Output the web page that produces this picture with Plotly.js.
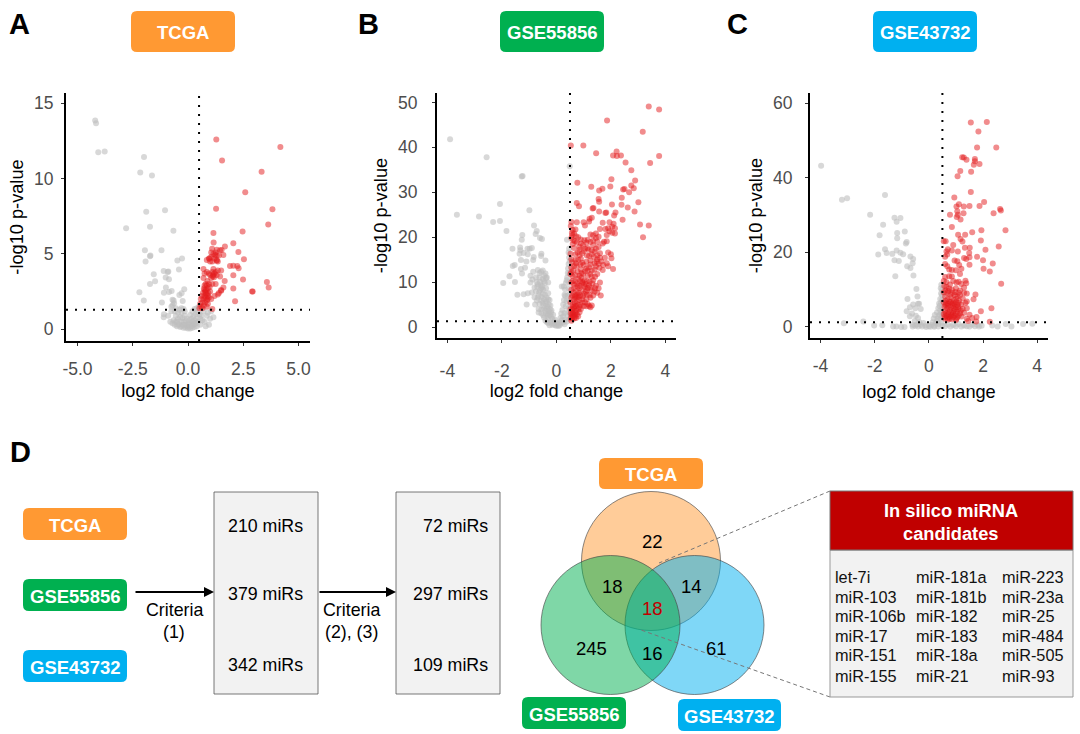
<!DOCTYPE html>
<html><head><meta charset="utf-8">
<script src="https://cdn.plot.ly/plotly-3.0.1.min.js"></script>
<style>html,body{margin:0;padding:0;background:#fff}#c{width:1080px;height:734px}</style></head>
<body><div id="c"></div>
<script>
const aGrey=[[-4.2,13.85],[-4.16,13.67],[-4.06,11.75],[-3.77,11.8],[-1.99,11.44],[-2.16,10.4],[-1.63,10.2],[-1.89,7.8],[-1.04,7.9],[-2.8,6.7],[-1.72,6.8],[-.66,6.53],[-1.95,5.24],[-1.2,5.24],[-1.7,4.89],[-1.72,4.85],[-1.92,4.49],[-.27,4.69],[-.48,4.56],[-.41,3.96],[-1.1,3.87],[-.89,3.83],[-.92,3.8],[-1.55,3.65],[-1.01,3.43],[-.86,3.32],[-1.49,3.19],[-1.72,3.01],[-1,2.77],[-.17,2.65],[-.74,2.54],[-.86,2.48],[-2.2,2.46],[-1.09,2.43],[-.29,2.39],[-.39,2.28],[-2,1.9],[-1.18,1.77],[-.7,1.95],[-.63,1.73],[-.24,1.88],[-.75,1.5],[-1.09,1],[-1.1,.8],[-.7,.4],[-.65,.6],[-.6,.3],[-.55,.9],[-.5,.5],[-.5,.2],[-.45,1.1],[-.45,.7],[-.4,.35],[-.4,1.3],[-.35,.8],[-.35,.15],[-.3,.5],[-.3,1.1],[-.25,.3],[-.25,.75],[-.2,.1],[-.2,.5],[-.2,1.35],[-.15,.3],[-.15,.9],[-.1,.1],[-.1,.55],[-.05,.2],[-.05,.7],[0,.05],[0,.35],[.05,.15],[.05,.6],[.1,.05],[.1,.4],[.1,.95],[.15,.2],[.15,.7],[.2,.1],[.2,.5],[.2,1.2],[.25,.3],[.25,.85],[.3,.15],[.3,.6],[.3,1.35],[.35,.4],[.35,1],[.4,.2],[.4,.7],[.4,1.4],[.45,.5],[.45,1.1],[-.75,1.2],[-.7,1.6],[-.65,1.9],[-.8,.5],[-.9,.9],[-.55,.5],[-.45,.3],[-.3,.2],[-.1,.3],[.05,.3],[.2,.3],[.3,.4],[-.6,1.2],[-.55,1.4],[-.3,1.4],[-.15,1.2],[.55,.3],[.6,.9],[.65,.6],[.7,1.2],[.75,.5],[.8,.2],[.85,.9],[.9,1.1],[1,.7],[.95,.3],[1.05,1.2],[1.15,.8],[.5,1.5],[.52,1],[.55,.7]];
const aRed=[[1.28,12.59],[4.18,12.1],[1.54,11.2],[3.33,10.46],[2.59,9.09],[1.27,8],[3.82,7.96],[3.63,6.95],[1.15,6.39],[2.47,6.48],[1.16,5.75],[2.05,5.7],[1.67,5.49],[1.45,5.24],[1.52,5.26],[2.28,5.13],[1.09,5.35],[1.3,5.27],[1.6,4.93],[1.23,4.93],[.97,4.7],[2.53,4.65],[.85,4.6],[1.3,4.55],[1.9,4.2],[2.05,4.22],[2.23,4.2],[2.29,4.05],[2.05,3.58],[2.49,3.3],[1.66,3.21],[3.57,3.14],[3.65,2.77],[2.9,2.5],[2.93,2.5],[2.05,2.7],[1.6,2.77],[2.13,1.86],[1.5,2.55],[1.4,2.4],[.52,1.4],[.55,1.7],[.58,2],[.6,1.5],[.62,2.2],[.65,1.8],[.65,1.4],[.68,2.4],[.7,2],[.72,2.7],[.72,1.6],[.75,2.9],[.75,2.2],[.78,1.8],[.78,2.5],[.8,3],[.8,2.1],[.82,2.6],[.85,2.9],[.85,1.5],[.85,2.3],[.88,3.2],[.88,2],[.9,2.7],[.9,1.7],[.92,2.4],[.95,3],[.95,2.1],[.98,2.8],[1,3.6],[1,2.5],[1.05,3.4],[1.05,2],[1.1,1.35],[1.1,3.8],[1.1,3],[1.15,3.6],[1.15,4],[1.2,3.7],[1.25,3.8],[.7,3.4],[.75,3.7],[.85,3.8],[.7,4],[1.2,2.2],[1.25,3],[1.35,2.3],[1.5,2.6],[.95,4.7],[1,4.5],[1.05,4.8],[1.1,4.5],[1.2,4.7],[1.3,4.6],[1.35,4.5],[1.15,5],[1.25,5.1],[1.3,4.9],[1.05,5.1],[1.4,4.9],[1.5,3.9],[1.45,3.5],[1.35,3.9],[.95,3.7],[1.12,3.5],[1.18,3.45],[1.3,3.6],[.85,1.9],[.9,2.2],[.8,2.4],[.75,2.6]];
const bGrey=[[-3.9,41.8],[-2.56,37.8],[-1.27,33.5],[-1.24,33.6],[-2.07,27.4],[-.99,26],[-3.65,25],[-2.84,24.6],[-2.07,23.6],[-2.32,23.4],[-.82,22.6],[-1.83,21.4],[-.72,21.4],[-1.25,20.5],[-.76,20.7],[-1.27,19.4],[-.6,19.8],[-.53,19.6],[.49,35.8],[.39,19.4],[-1.61,17.4],[-1.33,17.7],[-1.32,17.1],[-1.06,17.4],[-.9,17.6],[-.98,17.4],[-1.2,16.5],[-1.35,16.3],[-1.05,16.2],[-.83,15.6],[-.85,14.9],[-.55,16.3],[-.56,15.8],[-.4,14.8],[-1.3,14.9],[-1.1,14.6],[-1.6,13.6],[-1.53,13.8],[-1.3,12.9],[-1.15,13.2],[-1.72,11.3],[-1.95,9.8],[-1.52,10],[-1.26,11.9],[-.95,11.4],[-.85,12.3],[-.68,12.7],[-.56,12.3],[-.4,11.9],[-.88,10.6],[-.95,9.9],[-.72,10],[-.62,11],[-.5,10.7],[-.35,11],[-.8,8.8],[-.7,9],[-.58,9.3],[-.42,9.8],[-.3,9.9],[-.9,7.7],[-.75,7.9],[-.63,7.8],[-.48,8.3],[-.38,8.6],[-1.43,7.2],[-1.2,7.3],[-1.05,7.5],[-.8,6.6],[-.68,6.5],[-.55,6.7],[-.42,7.2],[-.3,7.5],[-1.09,5],[-.78,5],[-.62,5.2],[-.5,5.4],[-.37,5.7],[-.25,6],[-.65,4],[-.55,3.9],[-.45,4.2],[-.33,4.5],[-.22,4.8],[-.48,2.6],[-.38,3],[-.28,3.5],[-.18,3.7],[-.4,1.4],[-.3,1.9],[-.2,2.4],[-.12,2.7],[-.05,1.6],[-.3,.9],[-.2,1],[-.1,.8],[0,.3],[.05,.5],[.1,1],[.02,.9],[-.05,.4],[.15,2],[.18,3],[.22,3.8],[.25,5],[.28,6],[.3,7.2],[.32,8.4],[.27,9],[.35,9.8],[.4,11],[.43,13],[.45,14],[.47,15.5],[.42,12],[.38,10.4],[.33,6.9],[.2,1.5],[.25,2.4],[.3,3.1],[.35,4.6],[.38,5.8],[.42,7],[.45,8.6],[.47,10],[.48,12],[.49,14.7],[.15,.8],[.25,1],[.33,1.8],[.4,3],[.44,4.2],[.47,5.8],[.49,7.4],[.49,3],[.45,1.8],[.38,1.2],[.3,.6],[.45,16.6],[.47,17.5],[.2,9],[-.6,10],[-.55,8.6],[-.5,7.4],[-.45,6.2],[-.4,5.2],[-.35,4],[-.3,3],[-.25,2.6],[-.2,3.2],[-.15,1.8],[-.1,1.3],[-.05,.9],[0,.7],[.08,.2],[.12,.4],[-.15,.5],[-.25,.4],[-.35,1.1],[-.45,2.1],[-.55,3],[-.65,3.2],[-.72,5.9],[-.65,7],[-.6,8.2],[-.52,9],[-.46,10.2],[-.38,10.9],[-.68,9.5],[-.75,11],[-.62,12],[-.5,12.6],[-.44,11.4],[-.55,5.9],[-.48,4.8],[-.4,3.6],[-.32,2.5],[-.36,6.5],[-.28,5],[-.24,4],[-.3,6.2]];
const bRed=[[3.39,49.1],[3.77,48.4],[1.86,46],[3.17,43.5],[.53,40.4],[.99,40.4],[1.46,38.7],[2.21,39.1],[2.08,38.2],[2.22,38.1],[2.37,38.2],[3.44,36.5],[3.77,38.1],[2.54,36.6],[2.75,34.9],[2.02,32.9],[2.89,32.6],[.77,32.1],[2.75,31.5],[2.84,30.9],[1.28,31.2],[1.98,31.3],[1.69,30.8],[1.57,30.4],[2.45,30.6],[2.5,30.7],[2.67,30],[2.4,28.8],[1.55,28.5],[1.57,27.9],[3.01,27.8],[.75,27.6],[.83,26.9],[2.04,27.3],[2.39,27.2],[2.62,26.6],[2.87,25.7],[1.36,26.5],[1.33,26.4],[1.57,25.7],[1.8,25.4],[1.83,25.5],[2.17,25.5],[2.12,24.8],[2.43,23.9],[1.22,24.1],[1.3,24.3],[3.07,22.8],[3.39,22.6],[3.18,20],[2.08,12.9],[.55,23.4],[.75,23.3],[.53,22.5],[1,23.3],[1.2,23.5],[1.7,23.2],[1.95,23.3],[2.1,23],[2.05,22.3],[2.15,22],[1.9,22],[1.8,21.8],[2.05,21],[2.15,20.8],[1.05,22.6],[.7,21.7],[.6,21.6],[.65,20.8],[.72,20.2],[.55,19.8],[.9,19.5],[1.25,20.6],[1.45,20.8],[1.55,20.1],[1.45,19.8],[1.75,19],[1.85,19.1],[.6,18.5],[.75,18.8],[.9,18.6],[1.03,19.3],[1.25,18.9],[1.35,18.2],[1.55,17.8],[.65,17.6],[1.05,17.5],[1.3,17.1],[1.4,16.8],[1.45,17.4],[1.6,16.4],[.52,16.3],[.7,16.2],[.85,16],[.95,16.4],[1.12,15.9],[1.2,15.8],[2,16.2],[2.02,15.3],[1.5,15.1],[1.6,15.4],[1.65,14.6],[1.55,14.1],[1.85,14.2],[1.9,13.5],[.55,15.1],[.7,14.9],[.8,15],[.95,14.3],[1.1,14.5],[1.2,13.3],[1.3,12.5],[1.45,13.5],[1.7,12.7],[.55,13.2],[.65,13.6],[.78,12.3],[.9,12.8],[1.05,12.4],[1.5,11.8],[1.15,11.4],[1.25,11.8],[1.35,10.4],[.52,11.8],[.6,11.3],[.7,11.5],[.8,10.8],[.92,11],[1.02,10.4],[1.12,10.2],[1.22,10.1],[1.32,9.7],[1.45,9.2],[1.55,8.6],[.55,9.9],[.65,9.4],[.75,9.7],[.85,9.2],[.95,9.8],[1.05,8.9],[1.15,8.7],[1.25,8.8],[1.4,7.9],[1.5,7.6],[1.63,7],[.55,8.3],[.62,7.7],[.72,8],[.82,7.6],[.92,8.1],[1.02,7.4],[1.12,7.2],[1.22,7.1],[1.35,7],[.55,6.5],[.65,6.2],[.75,6.6],[.85,6],[.95,6.2],[1.05,5.5],[.52,5.4],[.6,5],[.68,5.4],[.78,5],[.88,4.9],[1,4.7],[1.1,4.6],[1.2,4.7],[1.25,4.4],[.52,4],[.58,3.9],[.65,4.1],[.72,3.6],[.8,3.9],[.9,4],[.53,3],[.6,3.1],[.67,2.7],[.75,2.8],[.8,2.4],[.53,2],[.58,1.9],[.65,1.9],[.72,2],[.55,1.4],[.55,12.2],[.6,10.3],[.65,8.7],[.7,7],[.75,5.8],[.85,8.7],[.95,10],[1.08,9.6],[1.2,9.3],[.62,3],[.68,4.6],[.82,6.8],[1,13.8],[1.25,14.8],[1.4,14.2],[1.5,16],[1.7,18.6],[1.35,20.4],[1.6,21.8],[1.85,20.5],[1.95,21.3],[.85,17.8],[.9,15.2],[1.15,17.6],[.75,13.6],[.85,11.4],[1.25,6.5],[1.1,6.2],[.57,21],[.58,20.4],[.62,19.3],[.68,19.1],[.8,20],[.98,18.2],[1.1,18.8],[1.18,17.2],[1.3,16.2],[1.38,15.6],[1.48,14.6],[1.58,13.2],[1.4,12.8],[1.3,11.2],[1.1,13],[.98,11.8],[.88,13.9],[.72,14.2],[.58,14.4],[.62,12.6],[.7,10.2],[.78,9],[.88,10.2],[1.02,9.2],[1.12,8.2],[1.3,8.2],[1.42,8.6],[.58,7],[.68,6.7],[.78,7.2],[.88,7],[.98,6.9],[1.08,7.9],[.62,4.4],[.72,4.7],[.84,4.4],[.95,5.4],[1.15,5.1],[1.3,4.8],[.57,2.7],[.7,3.2],[.85,3.3],[.6,2.3],[.68,2.3],[.92,12],[1.15,12.6],[1.25,13.9],[1.42,11.2],[1.6,9.9],[1.72,13.8],[1.78,15.4],[1.9,16.6],[1.35,19.2],[1.15,19.4],[1.5,19],[.85,17.2],[1,16.9],[.78,16.6]];
const cGrey=[[-3.98,43.2],[-3.21,34.1],[-3.02,34.5],[-1.62,35.4],[-2.17,30.1],[-1.27,29.3],[-1.05,29.2],[-1.19,28.2],[-1.69,27.4],[-.89,25.6],[-1.17,25.2],[-1.82,24.6],[-1.17,23.8],[-.82,22.8],[-.85,22.4],[-1.62,20.8],[-1.87,19.4],[-1.56,19.8],[-1.19,20.5],[-1.35,19.6],[-1.05,19.9],[-.95,19.5],[-.68,18.9],[-.58,18.2],[-1.27,17.9],[-1.11,17.7],[-.6,17.1],[-.8,16.3],[-.68,15.8],[-.57,13.8],[-1.24,13.6],[-.46,10.2],[-.42,8.2],[-.79,7.5],[-.4,6.2],[-.58,6],[-.36,6.2],[-.7,5.3],[-.5,5],[-.82,4.2],[-.3,4.8],[-.62,3.6],[-.7,2.9],[-.48,3],[-.4,2.4],[-.52,1.6],[-.35,1.3],[-.3,.5],[-.45,.7],[-.2,1.1],[-.12,.4],[0,.2],[.1,.6],[.14,1.3],[.18,2.3],[.22,3.2],[.26,1],[.3,3.9],[.32,2.2],[.35,5],[.38,6.3],[.4,3.3],[.42,7.5],[.45,9],[.44,10.4],[.46,11.3],[.48,5.2],[.49,2.8],[.49,7.2],[.49,8.5],[.47,1.2],[.35,.8],[.2,.3],[-3.14,1],[-2.42,1.5],[-2.02,.4],[-1.72,.45],[-1.32,.1],[-1.2,.1],[-1.02,0],[-.9,0],[-.6,.1],[-.6,.6],[-.5,.3],[-.4,.1],[-.25,.1],[-.1,0],[.05,.05],[.2,.05],[.35,.1],[.5,.4],[.6,.2],[.7,.7],[.8,.1],[.9,.5],[1,.2],[1.1,.8],[1.2,.1],[1.3,.4],[1.4,.2],[1.5,.1],[1.6,.6],[1.7,.2],[1.8,.5],[1.85,.1],[1.95,.3],[2.34,.4],[2.54,.1],[2.84,.8],[3.05,.1],[3.48,.8],[3.82,.9],[.3,1.6],[.36,3],[.42,4.4],[.45,6.4],[.4,5.6],[.44,2.2],[.47,3.8],[.49,10]];
const cRed=[[1.55,54.8],[2.14,54.9],[1.83,52.4],[1.78,48.1],[2.49,48.1],[1.23,45.5],[1.29,45.4],[1.39,44.8],[1.7,45],[1.66,43.5],[1.87,43.7],[1.7,44.4],[1.16,41.8],[1.56,41.6],[1.06,40.4],[1.55,36.2],[.94,34.7],[2.04,33.5],[1.11,32.9],[1.02,32.3],[1.29,32.3],[1.5,32.4],[1.87,32.4],[2.63,31.6],[2.66,31.2],[2.39,30.5],[1.28,30.5],[.78,30.1],[1.05,31],[1.07,30.1],[1.03,29.5],[1.17,28.8],[.85,26.8],[1.94,25.9],[2.83,25.9],[1.6,25.4],[1.08,24.7],[1.34,24.7],[1.17,23.6],[1.24,22.9],[1.92,23.2],[.9,22],[2.58,21.6],[1.33,21.2],[1.51,21.2],[2.09,20.7],[1.49,19.8],[1.78,18.8],[2,17.9],[2.36,17],[1.5,16.7],[2.02,15.6],[2.25,14.9],[2.67,11.6],[1.72,8.7],[2.31,5],[1.92,4.2],[2.25,1.4],[1.76,2.7],[.62,23],[.55,23],[.7,20.8],[.65,20.2],[.68,19.4],[.6,18.8],[.85,20.5],[1.07,20.2],[1.3,18.5],[1.38,18.2],[1.5,18.7],[.6,16.9],[.68,16.3],[.75,15.4],[.95,17.8],[1.05,17.6],[1.12,16.6],[1.2,15.6],[1,15.2],[.85,15.3],[1.15,14.2],[.6,13.4],[.75,13.6],[.85,13.5],[.55,12.3],[.65,12],[.78,11.4],[.9,12.3],[1.02,11.9],[1.1,12.1],[1.2,11.5],[1.35,12.4],[1.38,11.7],[1.3,10.6],[.57,11],[.65,10.7],[.75,10.3],[.85,10],[1,10.4],[1.15,9.8],[1.3,9.2],[1.4,9],[.55,9.3],[.68,9.1],[.8,8.7],[.95,8.6],[1.05,8.2],[1.15,8.5],[1.25,7.7],[.6,8.2],[.7,7.5],[.82,7.9],[.92,7.2],[1.02,7.6],[1.12,7],[1.4,6.8],[1.65,7.4],[.55,6.6],[.65,6.3],[.75,6.8],[.85,6.2],[.95,6.1],[1.05,5.9],[1.2,6],[1.35,6.4],[.58,5.4],[.68,5],[.8,5.3],[.9,5],[1,5.2],[1.1,4.8],[1.25,4.9],[1.4,5],[.6,4.2],[.72,4],[.82,3.9],[.92,4.3],[1.05,4.1],[1.15,3.6],[1.3,3.8],[.55,3.5],[.65,3],[.75,2.7],[.85,3.3],[.95,3],[1.05,2.6],[1.2,2.8],[1.4,2.2],[1.5,3.3],[1.6,2.4],[.6,2.2],[.7,2],[.85,2.1],[1,1.9],[1.45,1.6],[1.75,1.5],[.62,5.9],[.7,5.6],[.78,4.6],[.88,5.7],[.98,4.7],[1.08,5.4],[1.18,4.4],[.62,3.7],[.72,3.4],[.82,2.9],[.9,3.7],[1,3.5],[1.1,3.1],[.58,2.7],[.68,2.5],[.78,2.3],[.9,2.6],[1.02,2.2],[.62,7],[.72,6.2],[.8,6.7],[.9,6.5],[1,6.7],[1.1,6.4],[.62,9.8],[.72,9.6],[.88,9.2],[.98,9.4],[1.1,9.2]];
const xTicksA=[-5,-2.5,0,2.5,5], xLabelsA=["-5.0","-2.5","0.0","2.5","5.0"];
const yTicksA=[0,5,10,15], yLabelsA=["0","5","10","15"];
const xTicksB=[-4,-2,0,2,4], xLabelsB=["-4","-2","0","2","4"];
const yTicksB=[0,10,20,30,40,50], yLabelsB=["0","10","20","30","40","50"];
const yTicksC=[0,20,40,60], yLabelsC=["0","20","40","60"];
const miRNAs=[["let-7i","miR-103","miR-106b","miR-17","miR-151","miR-155"],["miR-181a","miR-181b","miR-182","miR-183","miR-18a","miR-21"],["miR-223","miR-23a","miR-25","miR-484","miR-505","miR-93"]];
const vennCounts=[["22",652,541,"#000"],["18",613,586,"#000"],["14",691,586,"#000"],["18",652,608,"#c00000"],["245",591,648,"#000"],["16",652,653,"#000"],["61",716,648,"#000"]];

const FF='"Liberation Sans",Arial,sans-serif';
const W=1080,H=734,px=x=>x/W,py=y=>1-y/H;
const RED='rgba(227,26,28,0.5)',GREY='rgba(190,190,190,0.6)';
function scatter(pts,ax,color){return {type:'scatter',mode:'markers',x:pts.map(p=>p[0]),y:pts.map(p=>p[1]),xaxis:'x'+ax,yaxis:'y'+ax,hoverinfo:'skip',showlegend:false,cliponaxis:false,marker:{size:6,color:color,line:{width:0}}};}
const data=[scatter(aGrey,'',GREY),scatter(aRed,'',RED),scatter(bGrey,'2',GREY),scatter(bRed,'2',RED),scatter(cGrey,'3',GREY),scatter(cRed,'3',RED)];
function axes(l,r,t,b,xr,yr,xt,xl,yt,yl,lx,ly,sx,sy){
 const base={showgrid:false,zeroline:false,showline:true,linecolor:'#000',linewidth:2,ticks:'outside',ticklen:3,tickwidth:1,tickcolor:'#333',tickfont:{family:FF,size:17.5,color:'#4d4d4d'},tickmode:'array',fixedrange:true};
 const tf={family:FF,size:18.2,color:'#000'};
 return [Object.assign({},base,{domain:[px(l),px(r)],range:xr,tickvals:xt,ticktext:xl,ticklabelstandoff:lx,title:{text:'log2 fold change',font:tf,standoff:sx}}),
         Object.assign({},base,{domain:[py(b),py(t)],range:yr,tickvals:yt,ticktext:yl,ticklabelstandoff:ly,title:{text:'-log10 p-value',font:tf,standoff:sy}})];
}
const [xa,ya]=axes(66,310,93,341,[-5.52,5.52],[-0.78,15.68],xTicksA,xLabelsA,yTicksA,yLabelsA,8,4,6,6);
const [xb,yb]=axes(437,676,93,338,[-4.38,4.39],[-2.45,52.1],xTicksB,xLabelsB,yTicksB,yLabelsB,13,11,1,6);
const [xc,yc]=axes(810,1048,93,338,[-4.39,4.4],[-2.95,62.7],xTicksB,xLabelsB,yTicksC,yLabelsC,8,9,10,6);
xa.anchor='y';ya.anchor='x';xb.anchor='y2';yb.anchor='x2';xc.anchor='y3';yc.anchor='x3';
const shapes=[];
function dotted(ax,x0,y0,x1,y1){shapes.push({type:'line',xref:'x'+ax,yref:'y'+ax,x0,y0,x1,y1,line:{color:'#000',width:2,dash:'2px,7px'}});}
dotted('',0.5,-0.78,0.5,15.68);dotted('',-5.52,1.3,5.52,1.3);
dotted('2',0.5,-2.45,0.5,52.1);dotted('2',-4.38,1.3,4.39,1.3);
dotted('3',0.5,-2.95,0.5,62.7);dotted('3',-4.39,1.3,4.4,1.3);
function rr(x0,y0,x1,y1,r,fill){const P=(x,y)=>px(x)+','+py(y);
 const path='M'+P(x0+r,y0)+'L'+P(x1-r,y0)+'Q'+P(x1,y0)+' '+P(x1,y0+r)+'L'+P(x1,y1-r)+'Q'+P(x1,y1)+' '+P(x1-r,y1)+'L'+P(x0+r,y1)+'Q'+P(x0,y1)+' '+P(x0,y1-r)+'L'+P(x0,y0+r)+'Q'+P(x0,y0)+' '+P(x0+r,y0)+'Z';
 shapes.push({type:'path',xref:'paper',yref:'paper',path,fillcolor:fill,line:{width:0}});}
function rect(x0,y0,x1,y1,fill,stroke,lw){shapes.push({type:'rect',xref:'paper',yref:'paper',x0:px(x0),x1:px(x1),y0:py(y0),y1:py(y1),fillcolor:fill,line:{color:stroke,width:lw}});}
function circ(cx,cy,r,fill){shapes.push({type:'circle',xref:'paper',yref:'paper',x0:px(cx-r),x1:px(cx+r),y0:py(cy-r),y1:py(cy+r),fillcolor:fill,line:{color:'rgba(70,70,70,0.8)',width:0.8}});}
function seg(x0,y0,x1,y1,color,w,dash){shapes.push({type:'line',xref:'paper',yref:'paper',x0:px(x0),x1:px(x1),y0:py(y0),y1:py(y1),line:{color,width:w,dash:dash||'solid'}});}
const OR='#ff9933',GR='#00b050',BL='#00b0f0';
const ann=[];
function txt(t,x,y,size,color,bold,anchor){ann.push({text:bold?'<b>'+t+'</b>':t,xref:'paper',yref:'paper',x:px(x),y:py(y),xanchor:anchor||'center',yanchor:'middle',showarrow:false,font:{family:FF,size,color},borderpad:0,borderwidth:0,captureevents:false});}
function pill(t,x0,y0,x1,y1,c,size){rr(x0,y0,x1,y1,6,c);txt(t,(x0+x1)/2,(y0+y1)/2+1,size||18.5,'#fff',true);}
pill('TCGA',131,11,235,52,OR);pill('GSE55856',500,11,604,52,GR);pill('GSE43732',873,11,977,52,BL);
txt('A',19,24,29,'#000',true);txt('B',368,24,29,'#000',true);txt('C',737,24,29,'#000',true);txt('D',20,452,29,'#000',true);
pill('TCGA',23,508,127,540,OR);pill('GSE55856',23,579,127,611,GR);pill('GSE43732',23,650,127,682,BL);
rect(214,492,318,694,'#f2f2f2','#555',0.8);rect(396,492,500,694,'#f2f2f2','#555',0.8);
[['210 miRs',265,526],['379 miRs',265,594],['342 miRs',265,665],['72 miRs',455,526],['297 miRs',450,594],['109 miRs',450,665]].forEach(a=>txt(a[0],a[1],a[2],17.8,'#000'));
txt('Criteria',174,610,17.8,'#000');txt('(1)',174,632,17.8,'#000');txt('Criteria',351,610,17.8,'#000');txt('(2), (3)',351,632,17.8,'#000');
[[134,214],[318,396]].forEach(a=>ann.push({text:'',xref:'paper',yref:'paper',x:px(a[1]),y:py(592),axref:'paper',ayref:'paper',ax:px(a[0]),ay:py(592),showarrow:true,arrowhead:2,arrowsize:1,arrowwidth:2,arrowcolor:'#000'}));
circ(651,561,69.5,'rgba(255,153,51,0.5)');circ(694.5,625,69.5,'rgba(0,176,240,0.5)');circ(610.5,625,69.5,'rgba(0,176,80,0.5)');
vennCounts.forEach(v=>txt(v[0],v[1],v[2],18.5,v[3]));
pill('TCGA',599,458,703,489,OR);pill('GSE55856',522,697,626,729,GR);pill('GSE43732',678,699,781,731,BL);
seg(830,491,659,563,'#777',1,'4px,3px');seg(830,697,641,630,'#777',1,'4px,3px');
rect(830,550,1073,697,'#f2f2f2','#999',1);rect(830,491,1073,550,'#c00000','#777',1);
txt('In silico miRNA',951,510,18.3,'#fff',true);txt('candidates',951,533,18.3,'#fff',true);
const colX=[835,916,1002],rowY=[577,597,616,636,655,676];
miRNAs.forEach((col,i)=>col.forEach((m,j)=>txt(m,colX[i],rowY[j],16.3,'#111',false,'left')));
Plotly.newPlot('c',data,{width:W,height:H,margin:{l:0,r:0,t:0,b:0},paper_bgcolor:'#fff',plot_bgcolor:'rgba(0,0,0,0)',showlegend:false,font:{family:FF},
 xaxis:xa,yaxis:ya,xaxis2:xb,yaxis2:yb,xaxis3:xc,yaxis3:yc,shapes,annotations:ann},{staticPlot:true,displayModeBar:false});
</script></body></html>
